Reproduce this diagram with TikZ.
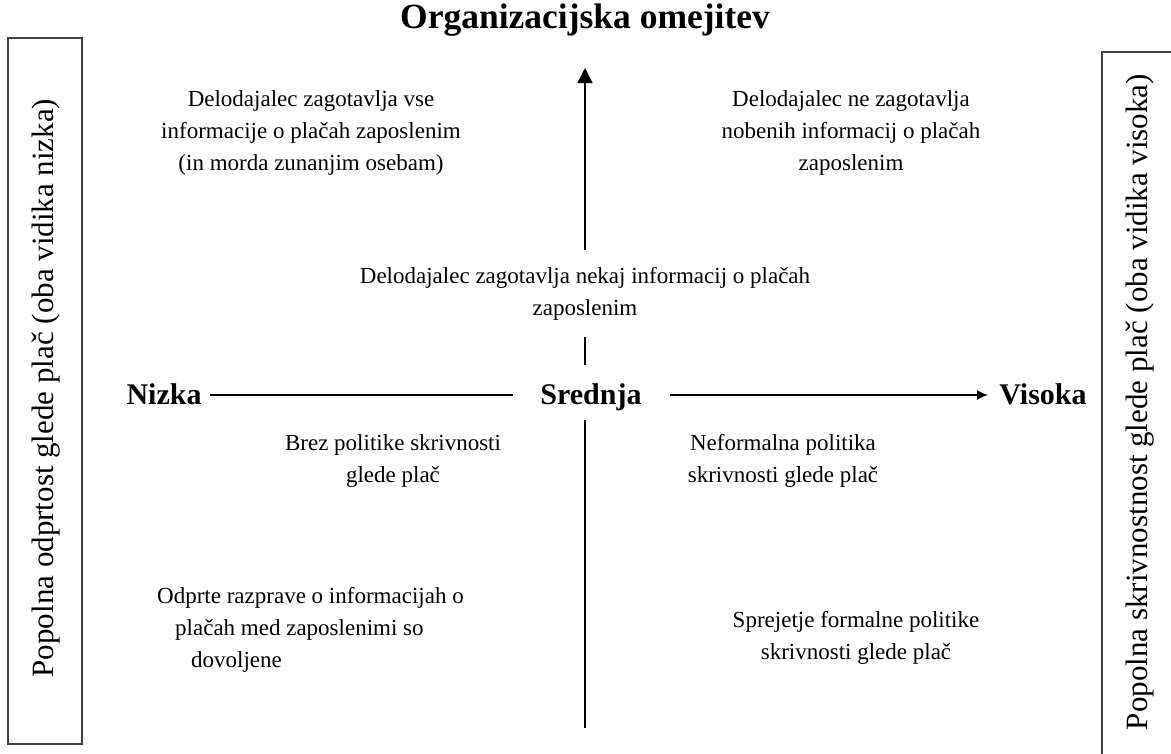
\documentclass[tikz,border=0pt]{standalone}
\usepackage{fontspec}
\setmainfont{Liberation Serif}
\usetikzlibrary{arrows.meta}
\begin{document}
\begin{tikzpicture}[x=1pt,y=-1pt,
  body/.style={font=\fontsize{23}{32}\selectfont, align=center, inner sep=0pt},
  axislabel/.style={font=\fontsize{30}{36}\selectfont\bfseries, inner sep=0pt, anchor=base},
  axis/.style={line width=1.4pt, black},
  sidebox/.style={draw=black!75, line width=1.4pt, minimum width=74pt, inner sep=0pt},
  sidetext/.style={font=\fontsize{31}{36}\selectfont, rotate=90, inner sep=0pt}]
\useasboundingbox (0,0) rectangle (1171,753);
\clip (0,0) rectangle (1171,753);

% title of the vertical axis
\node[axislabel, font=\fontsize{35.5}{40}\selectfont\bfseries] (title) at (585,28) {Organizacijska omejitev};

% side boxes
\node[sidebox, minimum height=706pt] (leftbox) at (45,391) {};
\node[sidetext] (lefttext) at (46,388) {Popolna odprtost glede plač (oba vidika nizka)};
\node[sidebox, minimum height=708pt] (rightbox) at (1139,406) {};
\node[sidetext] (righttext) at (1140,402) {Popolna skrivnostnost glede plač (oba vidika visoka)};

% quadrant texts
\node[body] (tl) at (311,133) {Delodajalec zagotavlja vse\\informacije o plačah zaposlenim\\(in morda zunanjim osebam)};
\node[body] (tr) at (851,133) {Delodajalec ne zagotavlja\\nobenih informacij o plačah\\zaposlenim};
\node[body] (mid) at (585,294) {Delodajalec zagotavlja nekaj informacij o plačah\\zaposlenim};
\node[body] (bl1) at (393,461) {Brez politike skrivnosti\\glede plač};
\node[body] (br1) at (783,461) {Neformalna politika\\skrivnosti glede plač};
\node[body, align=left, anchor=west] (bl2) at (157,630) {Odprte razprave o informacijah o\\\hspace*{18pt}plačah med zaposlenimi so\\\hspace*{34pt}dovoljene};
\node[body] (br2) at (856,638) {Sprejetje formalne politike\\skrivnosti glede plač};

% axis labels
\node[axislabel] (nizka) at (164,404) {Nizka};
\node[axislabel] (srednja) at (591,404) {Srednja};
\node[axislabel] (visoka) at (1043,404) {Visoka};

% axis end points and gaps
\coordinate (vtop) at (585,68);
\coordinate (vA) at (585,250);
\coordinate (vB) at (585,337);
\coordinate (vC) at (585,365);
\coordinate (vD) at (585,420);
\coordinate (vbot) at (585,728);
\coordinate (hA) at (210,395);
\coordinate (hB) at (513,395);
\coordinate (hC) at (670,395);
\coordinate (hD) at (988,395);

% vertical axis
\draw[axis, -{Triangle[length=15pt,width=15pt]}] (vA) -- (vtop);
\draw[axis] (vB) -- (vC);
\draw[axis] (vD) -- (vbot);

% horizontal axis
\draw[axis] (hA) -- (hB);
\draw[axis, -{Latex[length=11pt,width=10pt]}] (hC) -- (hD);
\end{tikzpicture}
\end{document}
